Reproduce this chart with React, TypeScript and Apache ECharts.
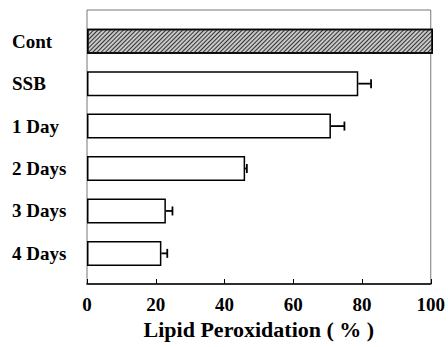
import React, { useEffect, useRef } from "react";
import * as echarts from "echarts";

const categories = ["Cont", "SSB", "1 Day", "2 Days", "3 Days", "4 Days"];
const values = [100, 78.4, 70.5, 45.7, 22.8, 21.5];
const errors = [0, 3.7, 3.9, 0.5, 1.9, 1.7];
const xTicks = [0, 20, 40, 60, 80, 100];

const FONT = "'Liberation Serif', 'Times New Roman', serif";

export default function App() {
  const ref = useRef<HTMLDivElement>(null);
  useEffect(() => {
    if (!ref.current) return;
    const chart = echarts.init(ref.current, undefined, { renderer: "svg" });
    const barData = values.map((v, i) =>
      i === 0
        ? {
            value: v,
            itemStyle: {
              color: "#c8c8c8",
              borderColor: "#000",
              borderWidth: 1.5,
              decal: {
                symbol: "rect",
                symbolSize: 1,
                dashArrayX: [[1, 0]],
                dashArrayY: [1, 1.6],
                rotation: -Math.PI / 4,
                color: "#333",
              },
            },
          }
        : v
    );
    const errData = values.map((v, i) => [v, i, errors[i]]);
    chart.setOption({
      animation: false,
      grid: [
        {
          left: 87,
          top: 10,
          width: 346,
          height: 274,
          show: true,
          borderColor: "#777",
          borderWidth: 1,
          backgroundColor: "transparent",
        },
        { left: 87, top: 20, width: 346, height: 254.6 },
      ],
      xAxis: [
        {
          gridIndex: 0,
          type: "value",
          min: 0,
          max: 100,
          interval: 20,
          splitLine: { show: false },
          axisLine: { show: true, lineStyle: { color: "#000", width: 1.5 } },
          axisTick: { show: true, inside: true, length: 5, lineStyle: { color: "#000", width: 1 } },
          axisLabel: {
            color: "#000",
            fontFamily: FONT,
            fontWeight: "bold",
            fontSize: 19,
            margin: 11,
            formatter: (v: number) => (xTicks.includes(v) ? String(v) : ""),
          },
          name: "Lipid Peroxidation ( % )",
          nameLocation: "middle",
          nameGap: 31,
          nameTextStyle: { color: "#000", fontFamily: FONT, fontWeight: "bold", fontSize: 22 },
        },
        {
          gridIndex: 1,
          type: "value",
          min: 0,
          max: 100,
          show: false,
        },
      ],
      yAxis: [
        { gridIndex: 0, type: "value", min: 0, max: 1, show: false },
        {
          gridIndex: 1,
          type: "category",
          data: categories,
          inverse: true,
          axisLine: { show: false },
          axisTick: { show: false },
          splitLine: { show: false },
          axisLabel: {
            align: "left",
            margin: 75,
            color: "#000",
            fontFamily: FONT,
            fontWeight: "bold",
            fontSize: 19,
          },
        },
      ],
      series: [
        {
          type: "bar",
          xAxisIndex: 1,
          yAxisIndex: 1,
          data: barData,
          barWidth: 25,
          itemStyle: { color: "#fff", borderColor: "#000", borderWidth: 1.5 },
          z: 2,
        },
        {
          type: "custom",
          xAxisIndex: 1,
          yAxisIndex: 1,
          data: errData,
          encode: { x: 0, y: 1 },
          z: 3,
          renderItem: (params: any, api: any) => {
            const v = api.value(0);
            const idx = api.value(1);
            const e = api.value(2);
            if (!e) return null;
            const p0 = api.coord([v, idx]);
            const p1 = api.coord([v + e, idx]);
            const h = 4.5;
            return {
              type: "group",
              children: [
                {
                  type: "line",
                  shape: { x1: p0[0], y1: p0[1], x2: p1[0], y2: p1[1] },
                  style: { stroke: "#000", lineWidth: 1.8 },
                },
                {
                  type: "line",
                  shape: { x1: p1[0], y1: p1[1] - h, x2: p1[0], y2: p1[1] + h },
                  style: { stroke: "#000", lineWidth: 1.8 },
                },
              ],
            };
          },
        },
      ],
    });
    return () => chart.dispose();
  }, []);
  return <div ref={ref} style={{ width: 448, height: 347, position: "absolute", left: 0, top: 0 }} />;
}
